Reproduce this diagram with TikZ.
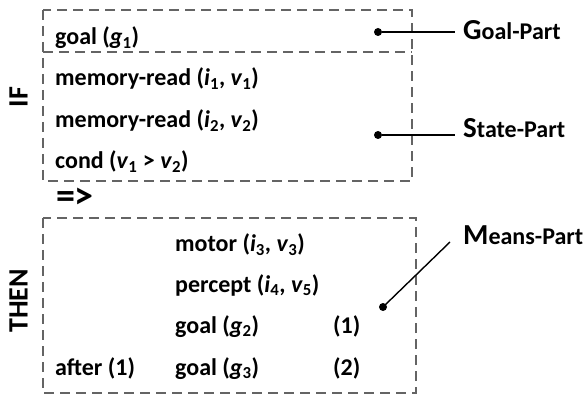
\documentclass[tikz,border=0pt]{standalone}
\usepackage{fontspec}
\setmainfont{Carlito}
\definecolor{dashgray}{RGB}{100,100,100}
\newcommand{\vr}[2]{\textit{#1}\textsubscript{#2}}
\begin{document}
\begin{tikzpicture}[x=1pt,y=-1pt,
  box/.style={draw=dashgray, dash pattern=on 10pt off 6pt, line width=2.6pt},
  txt/.style={anchor=base west, font=\bfseries\fontsize{24}{26}\selectfont, inner sep=0pt},
  lbl/.style={anchor=base west, font=\bfseries\fontsize{24}{26}\selectfont, inner sep=0pt},
  side/.style={font=\bfseries\fontsize{28}{30}\selectfont, rotate=90, inner sep=0pt},
  dot/.style={circle, fill=black, inner sep=0pt, minimum size=8pt},
  conn/.style={line width=1.4pt}]
\useasboundingbox (0,0) rectangle (586,395);
% boxes
\draw[box] (43,10) rectangle (412,181);
\draw[box] (43,52) -- (412,52);
\draw[box] (43,218) rectangle (416,393);
% side labels
\node[side] (if) at (18.5,97) {IF};
\node[side] (then) at (18.5,301) {THEN};
\node[font=\bfseries\fontsize{38}{40}\selectfont, inner sep=0pt] (impl) at (75,198) {=>};
% IF contents
\node[txt] (g1) at (55,45) {goal (\vr{g}{1})};
\node[txt] (m1) at (55,86) {memory-read (\vr{i}{1}, \vr{v}{1})};
\node[txt] (m2) at (55,128) {memory-read (\vr{i}{2}, \vr{v}{2})};
\node[txt] (c1) at (55,169) {cond (\vr{v}{1} > \vr{v}{2})};
% THEN contents
\node[txt] (mo) at (175,252) {motor (\vr{i}{3}, \vr{v}{3})};
\node[txt] (pe) at (175,292) {percept (\vr{i}{4}, \vr{v}{5})};
\node[txt] (g2) at (175,333) {goal (\vr{g}{2})};
\node[txt] (n1) at (333,333) {(1)};
\node[txt] (af) at (55,375) {after (1)};
\node[txt] (g3) at (175,375) {goal (\vr{g}{3})};
\node[txt] (n2) at (333,375) {(2)};
% part labels
\node[lbl] (gp) at (463,40) {{\fontsize{29}{29}\selectfont G}oal-Part};
\node[lbl] (sp) at (463,138) {{\fontsize{29}{29}\selectfont S}tate-Part};
\node[lbl] (mp) at (463,245) {{\fontsize{29}{29}\selectfont M}eans-Part};
% dots and connectors
\node[dot] (gd) at (378,32) {};
\node[dot] (sd) at (378,135) {};
\node[dot] (md) at (383,307) {};
\coordinate (gend) at (455,32);
\coordinate (send) at (455,135);
\coordinate (mend) at (450,242);
\draw[conn] (gd) -- (gend);
\draw[conn] (sd) -- (send);
\draw[conn] (md.center) -- (mend);
\end{tikzpicture}
\end{document}
